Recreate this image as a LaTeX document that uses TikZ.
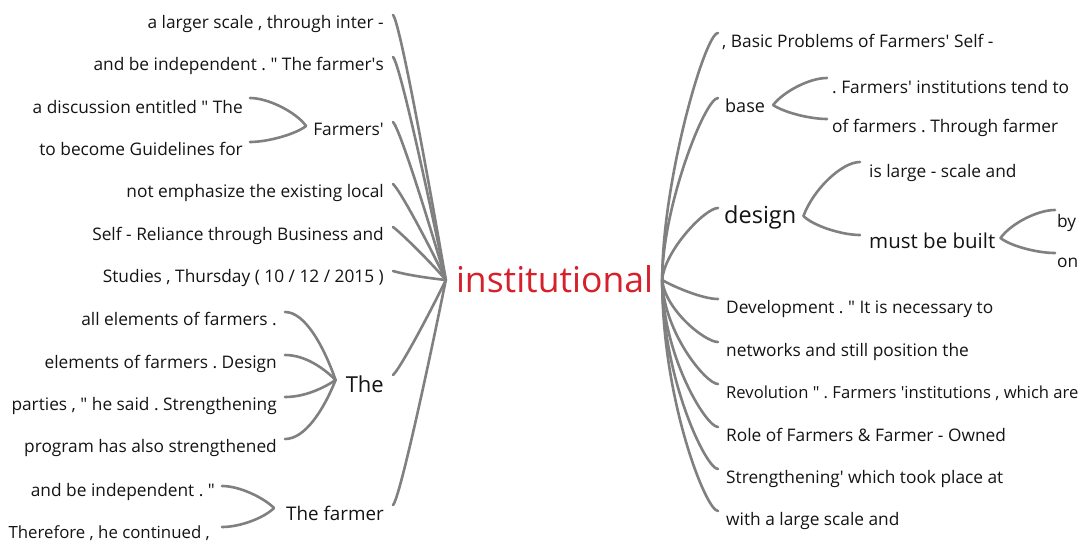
\documentclass[tikz,border=0pt]{standalone}
\usepackage{fontspec}
\setmainfont{Open Sans}
\usetikzlibrary{calc}
\definecolor{ln}{RGB}{128,128,128}
\definecolor{tx}{RGB}{20,20,20}
\definecolor{rd}{RGB}{214,32,42}
\newcommand\fsz[1]{\fontsize{#1}{#1}\selectfont}
\newcommand\qq{\textquotedbl}
\frenchspacing
\begin{document}
\begin{tikzpicture}[x=1pt,y=1pt,
  conn/.style={draw=ln,line width=2.6pt,line cap=round},
  lf/.style={inner sep=0pt,text=tx,font=\fsz{17.3}},
  le/.style={lf,anchor=base east},
  ri/.style={lf,anchor=base west}]
\useasboundingbox[fill=white] (0,0) rectangle (1091,-546);
% centre
\node[inner sep=0pt,anchor=base,text=rd,font=\fsz{35.5}] (C) at (554.5,-292) {institutional};
\coordinate (hl) at ([shift={(-10,12)}]C.base west);
\coordinate (hr) at ([shift={(9,12)}]C.base east);
% left side
\node[le] (L1) at (384,-28) {a larger scale , through inter -};
\node[le] (L2) at (384,-70) {and be independent . \qq{} The farmer\textquotesingle s};
\node[le] (L3) at (384,-135) {Farmers\textquotesingle};
\node[le] (L3a) at (243,-113) {a discussion entitled \qq{} The};
\node[le] (L3b) at (243,-155) {to become Guidelines for};
\node[le] (L4) at (384,-197) {not emphasize the existing local};
\node[le] (L5) at (384,-240) {Self - Reliance through Business and};
\node[le] (L6) at (384,-282) {Studies , Thursday ( 10 / 12 / 2015 )};
\node[le,font=\fsz{22}] (L7) at (384,-392) {The};
\node[le] (L7a) at (277,-325) {all elements of farmers .};
\node[le] (L7b) at (277,-368) {elements of farmers . Design};
\node[le] (L7c) at (277,-410) {parties , \qq{} he said . Strengthening};
\node[le] (L7d) at (277,-452) {program has also strengthened};
\node[le,font=\fsz{18.8}] (L8) at (384,-520) {The farmer};
\node[le] (L8a) at (215,-496) {and be independent . \qq};
\node[le,font=\fsz{16.8}] (L8b) at (210,-538) {Therefore , he continued ,};
% right side
\node[ri] (R1) at (722,-47) {, Basic Problems of Farmers\textquotesingle{} Self -};
\node[ri,font=\fsz{18}] (R2) at (725,-112) {base};
\node[ri] (R2a) at (832,-93) {. Farmers\textquotesingle{} institutions tend to};
\node[ri] (R2b) at (832,-132) {of farmers . Through farmer};
\node[ri,font=\fsz{23.5}] (R3) at (724,-223) {design};
\node[ri] (R3a) at (869,-177) {is large - scale and};
\node[ri,font=\fsz{20.5}] (R3b) at (869,-248) {must be built};
\node[ri] (R3b1) at (1057,-227) {by};
\node[ri] (R3b2) at (1057,-267) {on};
\node[ri] (R4) at (726,-313) {Development . \qq{} It is necessary to};
\node[ri] (R5) at (726,-356) {networks and still position the};
\node[ri,font=\fsz{16.6}] (R6) at (726,-398) {Revolution \qq{} . Farmers \textquotesingle institutions , which are};
\node[ri] (R7) at (726,-441) {Role of Farmers \& Farmer - Owned};
\node[ri] (R8) at (726,-483) {Strengthening\textquotesingle{} which took place at};
\node[ri] (R9) at (726,-525) {with a large scale and};
% end points
\coordinate (L1e) at ([shift={(9,13)}]L1.base east);
\coordinate (L2e) at ([shift={(9,13)}]L2.base east);
\coordinate (L3e) at ([shift={(9,13)}]L3.base east);
\coordinate (L4e) at ([shift={(9,13)}]L4.base east);
\coordinate (L5e) at ([shift={(9,13)}]L5.base east);
\coordinate (L6e) at ([shift={(9,11)}]L6.base east);
\coordinate (L7e) at ([shift={(9,17)}]L7.base east);
\coordinate (L8e) at ([shift={(9,15)}]L8.base east);
\coordinate (L3t) at ([shift={(-7,9)}]L3.base west);
\coordinate (L7t) at ([shift={(-10,12)}]L7.base west);
\coordinate (L8t) at ([shift={(-12,12)}]L8.base west);
\coordinate (L3ae) at ([shift={(7,15)}]L3a.base east);
\coordinate (L3be) at ([shift={(7,13)}]L3b.base east);
\coordinate (L7ae) at ([shift={(8,13)}]L7a.base east);
\coordinate (L7be) at ([shift={(8,13)}]L7b.base east);
\coordinate (L7ce) at ([shift={(8,13)}]L7c.base east);
\coordinate (L7de) at ([shift={(8,13)}]L7d.base east);
\coordinate (L8ae) at ([shift={(7,10)}]L8a.base east);
\coordinate (L8be) at ([shift={(12,11)}]L8b.base east);
\coordinate (R1e) at ([shift={(-4,14)}]R1.base west);
\coordinate (R2e) at ([shift={(-7,14)}]R2.base west);
\coordinate (R3e) at ([shift={(-6,15)}]R3.base west);
\coordinate (R4e) at ([shift={(-8,14)}]R4.base west);
\coordinate (R5e) at ([shift={(-8,14)}]R5.base west);
\coordinate (R6e) at ([shift={(-8,14)}]R6.base west);
\coordinate (R7e) at ([shift={(-8,14)}]R7.base west);
\coordinate (R8e) at ([shift={(-8,14)}]R8.base west);
\coordinate (R9e) at ([shift={(-8,14)}]R9.base west);
\coordinate (R2t) at ([shift={(8,7)}]R2.base east);
\coordinate (R3t) at ([shift={(7,7)}]R3.base east);
\coordinate (R3bt) at ([shift={(5,10)}]R3b.base east);
\coordinate (R2ae) at ([shift={(-5,15)}]R2a.base west);
\coordinate (R2be) at ([shift={(-5,13)}]R2b.base west);
\coordinate (R3ae) at ([shift={(-9,15)}]R3a.base west);
\coordinate (R3be) at ([shift={(-9,13)}]R3b.base west);
\coordinate (R3b1e) at ([shift={(-2,17)}]R3b1.base west);
\coordinate (R3b2e) at ([shift={(-2,14)}]R3b2.base west);
% left hub connectors
\draw[conn] (hl) .. controls +(-16,93) and +(7,-7) .. (L1e);
\draw[conn] (hl) .. controls +(-16,78) and +(7,-7) .. (L2e);
\draw[conn] (hl) .. controls +(-16,55) and +(7,-7) .. (L3e);
\draw[conn] (hl) .. controls +(-16,34) and +(7,-6) .. (L4e);
\draw[conn] (hl) .. controls +(-16,19) and +(7,-5) .. (L5e);
\draw[conn] (hl) .. controls +(-18,2) and +(14,-4) .. (L6e);
\draw[conn] (hl) .. controls +(-16,-33) and +(7,6) .. (L7e);
\draw[conn] (hl) .. controls +(-16,-79) and +(7,7) .. (L8e);
% left sub connectors
\draw[conn] (L3t) .. controls +(-10,14) and +(18,0) .. (L3ae);
\draw[conn] (L3t) .. controls +(-10,-8) and +(18,0) .. (L3be);
\draw[conn] (L7t) .. controls +(-12,34) and +(20,0) .. (L7ae);
\draw[conn] (L7t) .. controls +(-12,12) and +(20,0) .. (L7be);
\draw[conn] (L7t) .. controls +(-12,-8) and +(20,0) .. (L7ce);
\draw[conn] (L7t) .. controls +(-12,-30) and +(20,0) .. (L7de);
\draw[conn] (L8t) .. controls +(-10,10) and +(18,0) .. (L8ae);
\draw[conn] (L8t) .. controls +(-10,-10) and +(18,0) .. (L8be);
% right hub connectors
\draw[conn] (hr) .. controls +(0,99) and +(-13,0) .. (R1e);
\draw[conn] (hr) .. controls +(0,73) and +(-13,0) .. (R2e);
\draw[conn] (hr) .. controls +(2,29) and +(-13,0) .. (R3e);
\draw[conn] (hr) .. controls +(10,-6) and +(-16,0) .. (R4e);
\draw[conn] (hr) .. controls +(3,-30) and +(-13,0) .. (R5e);
\draw[conn] (hr) .. controls +(1,-52) and +(-12,0) .. (R6e);
\draw[conn] (hr) .. controls +(0,-75) and +(-12,0) .. (R7e);
\draw[conn] (hr) .. controls +(0,-98) and +(-12,0) .. (R8e);
\draw[conn] (hr) .. controls +(0,-120) and +(-12,0) .. (R9e);
% right sub connectors
\draw[conn] (R2t) .. controls +(10,13) and +(-18,0) .. (R2ae);
\draw[conn] (R2t) .. controls +(10,-7) and +(-18,0) .. (R2be);
\draw[conn] (R3t) .. controls +(10,27) and +(-18,0) .. (R3ae);
\draw[conn] (R3t) .. controls +(10,-10) and +(-18,0) .. (R3be);
\draw[conn] (R3bt) .. controls +(10,14) and +(-18,0) .. (R3b1e);
\draw[conn] (R3bt) .. controls +(10,-8) and +(-18,0) .. (R3b2e);
\end{tikzpicture}
\end{document}
